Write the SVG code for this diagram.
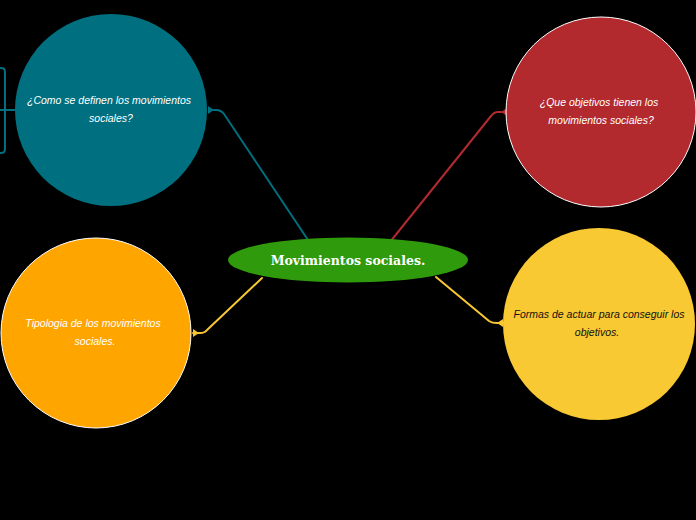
<svg xmlns="http://www.w3.org/2000/svg" width="696" height="520" viewBox="0 0 696 520">
<style>
.t{font-family:"Liberation Sans",Arial,sans-serif;font-style:italic;font-size:10.5px;text-anchor:middle}
.w{fill:#ffffff}
.k{fill:#111111}
.c{fill:none;stroke-width:2;stroke-linecap:round;stroke-linejoin:round}
.title{font-family:"DejaVu Serif",serif;font-weight:bold;font-size:12.5px;fill:#ffffff;text-anchor:middle}
</style>
<rect width="696" height="520" fill="#000000"/>
<g id="connectors">
<path class="c" stroke="#006f7f" d="M310,243 L224,114 Q221,110 216,110 L209,110"/>
<path class="c" stroke="#006f7f" stroke-width="1.5" d="M16,110 L0,110 M-10,68 L1,68 Q5,68 5,72 L5,149 Q5,153 1,153 L-10,153"/>
<path class="c" stroke="#b2292e" d="M390,242 L491,116 Q494,112 498,112 L506,112"/>
<path class="c" stroke="#f8c833" d="M262,278 L207,330 Q205,333 200,333 L193,333"/>
<path class="c" stroke="#f8c833" d="M436,277 L489,321 Q492,323 497,323 L503,323"/>
<polygon points="208,106 214,110 208,114" fill="#006f7f"/>
<polygon points="507,108 501,112 507,116" fill="#b2292e"/>
<polygon points="193,329 199,333 193,337" fill="#f8c833"/>
<polygon points="503,319 497,323 503,327" fill="#f8c833"/>
</g>
<g id="n1">
<circle cx="111" cy="110" r="96" fill="#006f7f"/>
<text class="t w" x="109" y="104">¿Como se definen los movimientos</text>
<text class="t w" x="111" y="122">sociales?</text>
</g>
<g id="n2">
<circle cx="601" cy="112" r="95" fill="#b2292e" stroke="#ffffff" stroke-width="1"/>
<text class="t w" x="599" y="106">¿Que objetivos tienen los</text>
<text class="t w" x="601" y="124">movimientos sociales?</text>
</g>
<g id="n3">
<circle cx="96" cy="333" r="95" fill="#ffa500" stroke="#ffffff" stroke-width="1"/>
<text class="t w" x="93" y="327">Tipologia de los movimientos</text>
<text class="t w" x="95" y="345">sociales.</text>
</g>
<g id="n4">
<circle cx="599" cy="324" r="96" fill="#f8c933"/>
<text class="t k" x="599" y="318">Formas de actuar para conseguir los</text>
<text class="t k" x="597" y="336">objetivos.</text>
</g>
<g id="center">
<ellipse cx="348" cy="260" rx="120" ry="22.5" fill="#2f9a0c"/>
<text class="title" x="348" y="265">Movimientos sociales.</text>
</g>
</svg>
